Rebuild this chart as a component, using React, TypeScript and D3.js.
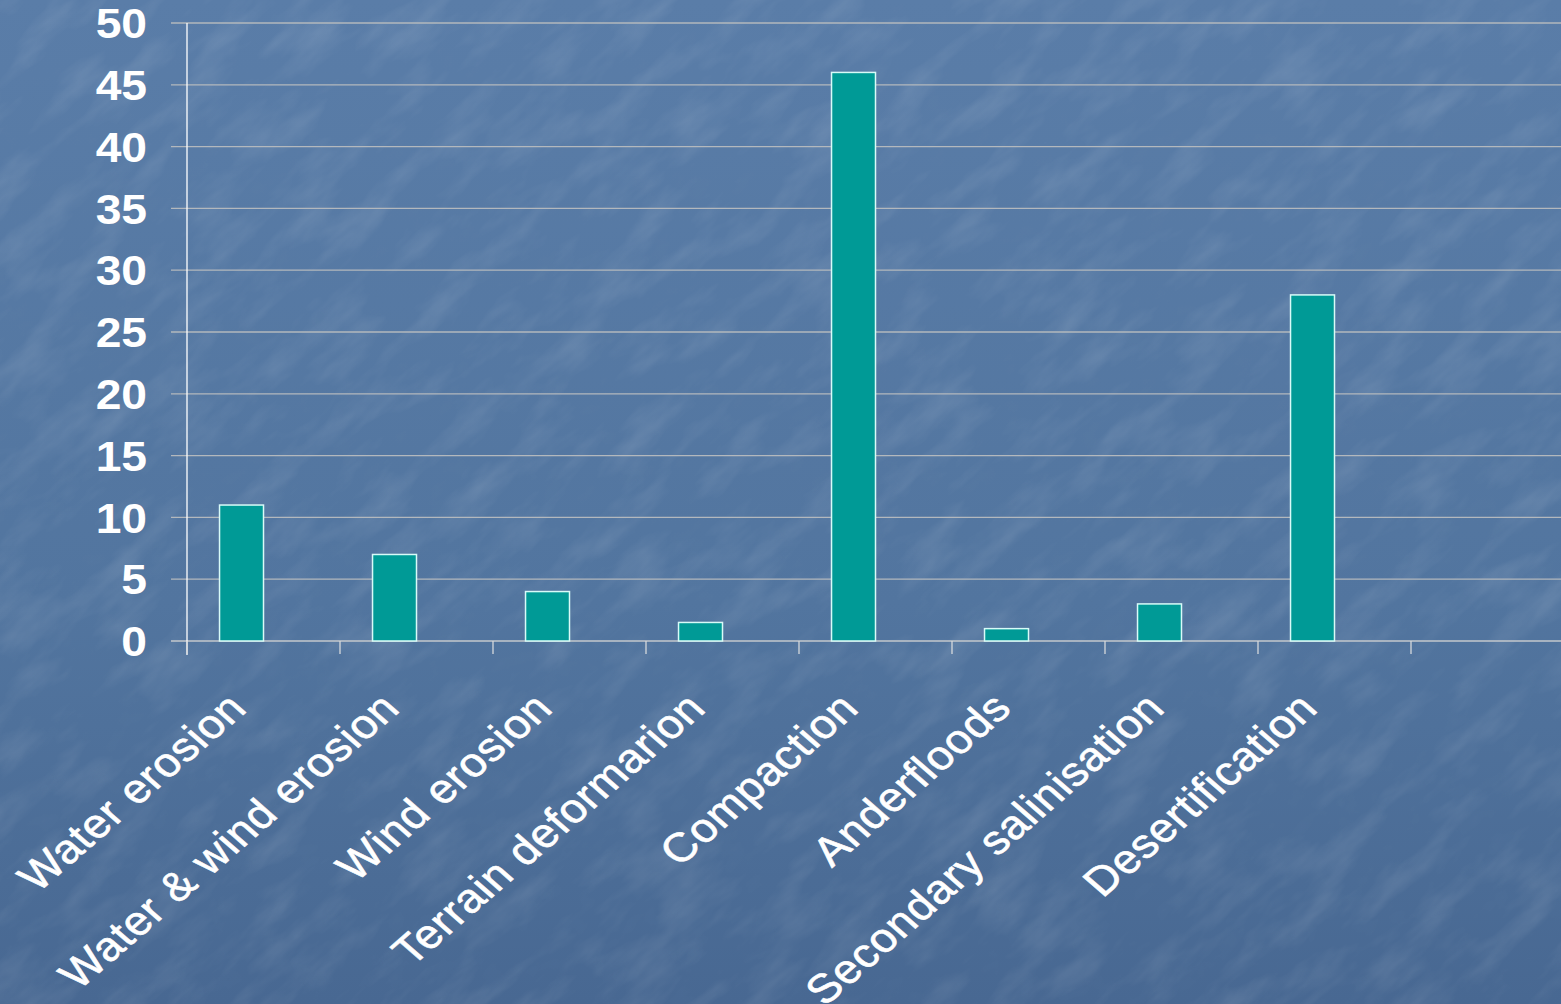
import React from "react";
import * as d3 from "d3";

const categories = [
  "Water erosion",
  "Water & wind erosion",
  "Wind erosion",
  "Terrain deformarion",
  "Compaction",
  "Anderfloods",
  "Secondary salinisation",
  "Desertification",
  "",
];
const values: (number | null)[] = [11, 7, 4, 1.5, 46, 1, 3, 28, null];
const series = ["s1", "s2"];
const yTicks = [0, 5, 10, 15, 20, 25, 30, 35, 40, 45, 50];

const W = 1561;
const H = 1004;
const S = 1.15; // horizontal stretch of the original picture

export default function App() {
  const x = d3.scaleBand<string>().domain(categories.map((c, i) => i + "")).range([187, 1564]).padding(0);
  const inner = d3
    .scaleBand<string>()
    .domain(series)
    .range([0, x.bandwidth()])
    .paddingInner(0)
    .paddingOuter(0.74);
  const y = d3.scaleLinear().domain([0, 50]).range([641, 23]);
  const y0 = y(0);

  return (
    <svg
      width={W}
      height={H}
      style={{ position: "absolute", left: 0, top: 0, display: "block" }}
      fontFamily="Arial, 'Liberation Sans', Helvetica, sans-serif"
    >
      <defs>
        <linearGradient id="bg" x1="0" y1="0" x2="0" y2="1">
          <stop offset="0" stopColor="#5a7da8" />
          <stop offset="0.6" stopColor="#52759f" />
          <stop offset="1" stopColor="#486892" />
        </linearGradient>
        <filter id="tex" x="0" y="0" width="1" height="1">
          <feTurbulence type="fractalNoise" baseFrequency="0.012 0.035" numOctaves="4" seed="7" />
          <feColorMatrix
            type="matrix"
            values="0 0 0 0 1  0 0 0 0 1  0 0 0 0 1  0 0 0 -1.2 0.66"
          />
        </filter>
        <filter id="tex2" x="0" y="0" width="1" height="1">
          <feTurbulence type="fractalNoise" baseFrequency="0.03 0.05" numOctaves="3" seed="3" />
          <feColorMatrix
            type="matrix"
            values="0 0 0 0 0.15  0 0 0 0 0.25  0 0 0 0 0.4  0 0 0 1.0 -0.5"
          />
        </filter>
      </defs>
      <rect x={0} y={0} width={W} height={H} fill="url(#bg)" />
      <g transform="rotate(-40 780 500)" opacity={0.18}>
        <rect x={-700} y={-700} width={3000} height={2400} filter="url(#tex)" />
      </g>
      <g transform="rotate(-40 780 500)" opacity={0.2}>
        <rect x={-700} y={-700} width={3000} height={2400} filter="url(#tex2)" />
      </g>

      {/* gridlines */}
      {yTicks.map((t) => (
        <line
          key={"g" + t}
          x1={171}
          x2={W}
          y1={y(t)}
          y2={y(t)}
          stroke={t === 0 ? "#c4c8cc" : "#b3b8bd"}
          strokeWidth={1.3}
        />
      ))}

      {/* bars */}
      {values.map((v, i) =>
        v == null ? null : (
          <rect
            key={"b" + i}
            x={(x(i + "") as number) + (inner("s1") as number)}
            y={y(v)}
            width={inner.bandwidth()}
            height={y0 - y(v)}
            fill="#009a96"
            stroke="#d8fbf8"
            strokeWidth={1.5}
          />
        )
      )}

      {/* y axis */}
      <line x1={187} x2={187} y1={y(50)} y2={y0 + 14} stroke="#ffffff" strokeWidth={1.3} />
      {/* x axis ticks */}
      {categories.map((c, i) => (
        <line
          key={"xt" + i}
          x1={x(i + "") as number}
          x2={x(i + "") as number}
          y1={y0}
          y2={y0 + 13}
          stroke="#d6d9dc"
          strokeWidth={1.3}
        />
      ))}

      {/* y tick labels */}
      {yTicks.map((t) => (
        <text
          key={"yl" + t}
          transform={`translate(147 ${y(t)}) scale(1.1 1)`}
          textAnchor="end"
          dy="0.36em"
          fill="#ffffff"
          fontWeight="bold"
          fontSize={42}
        >
          {t}
        </text>
      ))}

      {/* category labels */}
      {categories.map((c, i) =>
        c === "" ? null : (
          <text
            key={"xl" + i}
            transform={`translate(${(x(i + "") as number) + x.bandwidth() / 2 - 39} 689) scale(${S} 1) rotate(-45)`}
            textAnchor="end"
            dominantBaseline="hanging"
            fill="#ffffff"
            stroke="#ffffff"
            strokeWidth={0.6}
            letterSpacing={0.7}
            fontSize={40.5}
          >
            {c}
          </text>
        )
      )}
    </svg>
  );
}
